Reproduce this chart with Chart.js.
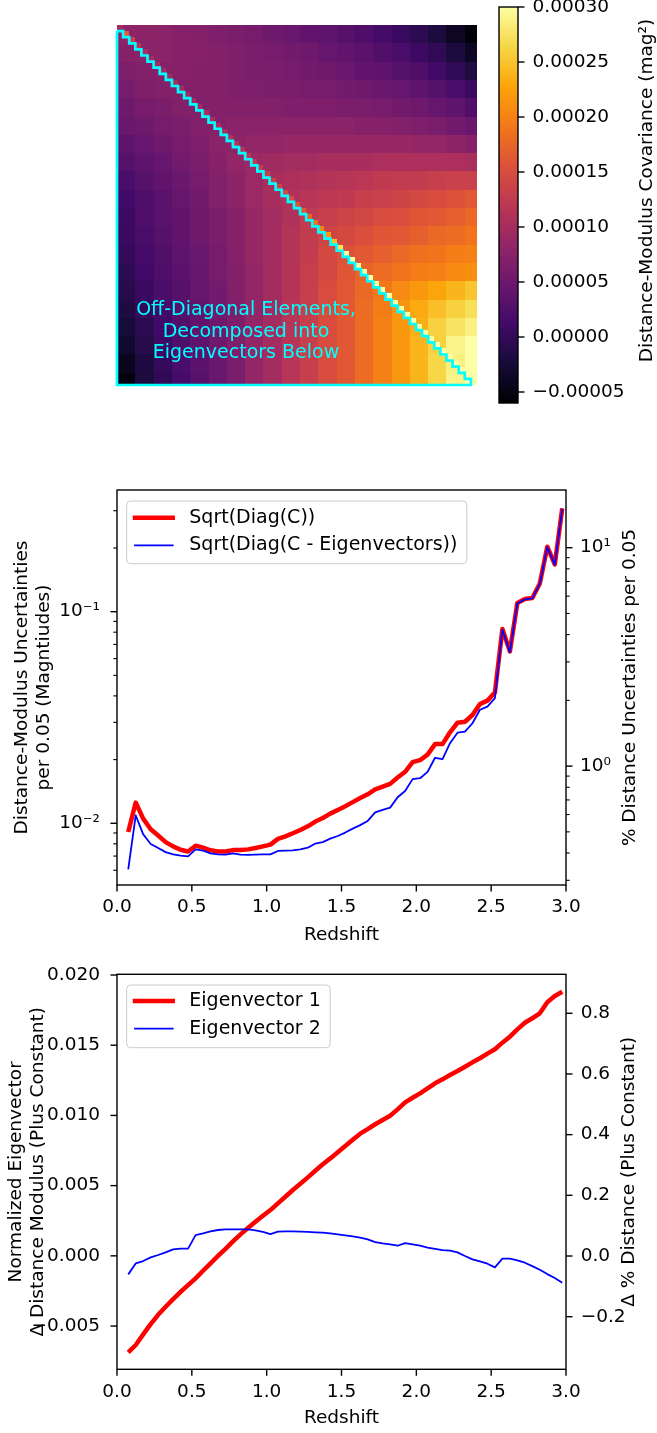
<!DOCTYPE html>
<html><head><meta charset="utf-8">
<script src="https://cdn.jsdelivr.net/npm/chart.js@4.4.1/dist/chart.umd.min.js"></script>
<style>
html,body{margin:0;padding:0;background:#fff;}
#wrap{position:relative;width:657px;height:1433px;overflow:hidden;background:#fff;}
canvas{position:absolute;}
</style></head><body>
<div id="wrap">
<canvas id="heat" width="368" height="368" style="left:113px;top:21px;width:368px;height:368px"></canvas>
<canvas id="cbar" width="177" height="420" style="left:480px;top:0px;width:177px;height:420px"></canvas>
<canvas id="unc" width="657" height="480" style="left:0px;top:470px;width:657px;height:480px"></canvas>
<canvas id="eig" width="657" height="478" style="left:0px;top:955px;width:657px;height:478px"></canvas>
</div>
<script>
// ---------------- DATA ----------------
const redshift = [0.075,0.125,0.175,0.225,0.275,0.325,0.375,0.425,0.475,0.525,0.575,0.625,0.675,0.725,0.775,0.825,0.875,0.925,0.975,1.025,1.075,1.125,1.175,1.225,1.275,1.325,1.375,1.425,1.475,1.525,1.575,1.625,1.675,1.725,1.775,1.825,1.875,1.925,1.975,2.025,2.075,2.125,2.175,2.225,2.275,2.325,2.375,2.425,2.475,2.525,2.575,2.625,2.675,2.725,2.775,2.825,2.875,2.925,2.975];

// Sqrt(Diag(C)) (mag)
const sigmaFull = [0.0091,0.01253,0.01052,0.00937,0.00875,0.00815,0.00778,0.0075,0.00736,0.00784,0.00767,0.00745,0.00736,0.00736,0.00747,0.00747,0.00753,0.00764,0.00778,0.00793,0.00844,0.00867,0.00897,0.0093,0.00968,0.01019,0.01059,0.01111,0.01156,0.01205,0.01259,0.01318,0.01371,0.01448,0.01492,0.01536,0.01647,0.01751,0.01946,0.0199,0.0211,0.02367,0.02367,0.02692,0.02986,0.0302,0.0325,0.0366,0.038,0.0415,0.0828,0.0649,0.110,0.1148,0.1161,0.1358,0.2027,0.1671,0.3077];

// Sqrt(Diag(C - Eigenvectors)) (mag)
const sigmaResid = [0.00605,0.01091,0.00887,0.00798,0.00764,0.00731,0.00713,0.00703,0.00698,0.00753,0.00743,0.00721,0.00713,0.00711,0.00721,0.00711,0.00709,0.00711,0.00713,0.00713,0.0074,0.00743,0.00745,0.00753,0.00767,0.00802,0.00815,0.00846,0.00871,0.00904,0.00944,0.0098,0.01026,0.01125,0.01156,0.01186,0.01328,0.01422,0.01617,0.01633,0.0175,0.0204,0.0201,0.0239,0.0268,0.0271,0.0297,0.0344,0.0356,0.039,0.0822,0.0644,0.1093,0.1143,0.1156,0.1352,0.202,0.1665,0.307];

// Eigenvectors (normalized, mag, plus constant)
const eigvec1 = [-0.00687,-0.00635,-0.00559,-0.00486,-0.0042,-0.00363,-0.00308,-0.00256,-0.00208,-0.0016,-0.00106,-0.00053,-0.00001,0.0005,0.00103,0.00153,0.00198,0.00243,0.00286,0.00326,0.00374,0.00421,0.00469,0.00514,0.00559,0.00606,0.00652,0.00694,0.00738,0.00782,0.00827,0.0087,0.00903,0.00937,0.00967,0.00998,0.01043,0.01093,0.01126,0.01157,0.01193,0.01229,0.01257,0.01288,0.01316,0.01347,0.01378,0.01407,0.0144,0.01471,0.01518,0.01561,0.01613,0.0166,0.01692,0.01727,0.01806,0.0185,0.01881];
const eigvec2 = [-0.00132,-0.00054,-0.00037,-0.00011,0.00006,0.00025,0.00046,0.00051,0.00051,0.00148,0.0016,0.00174,0.00184,0.00189,0.00189,0.00189,0.00189,0.00181,0.0017,0.00155,0.00172,0.00174,0.00174,0.00172,0.0017,0.00167,0.00165,0.0016,0.00153,0.00146,0.00139,0.00129,0.00117,0.00098,0.00089,0.00082,0.00072,0.00091,0.00082,0.00072,0.00058,0.00049,0.00041,0.00037,0.00025,-0.00001,-0.00025,-0.00039,-0.00056,-0.00082,-0.0002,-0.0002,-0.00032,-0.00049,-0.00073,-0.00099,-0.0013,-0.00158,-0.00191];

// Covariance image, in units of 1e-5 mag^2: 20x20 blocks (3 redshift bins each), row = first index
const covBlocks = [
 [8.0,8.0,7.7,7.3,7.0,6.6,6.2,5.9,5.2,4.8,4.1,3.7,3.0,2.3,1.6,0.5,-0.6,-2.0,-3.8,-5.6],
 [7.3,7.7,7.7,7.3,7.3,7.0,6.6,6.2,5.9,5.5,5.2,4.4,4.1,3.4,2.6,1.9,0.8,-0.2,-2.0,-3.8],
 [6.6,7.0,7.3,7.3,7.0,7.0,6.6,6.2,6.2,5.9,5.5,5.2,4.8,4.1,3.7,3.0,2.3,1.2,-0.2,-1.7],
 [5.9,6.6,7.0,7.0,7.0,7.0,6.6,6.6,6.2,6.2,5.9,5.9,5.5,5.2,4.8,4.4,3.7,3.0,1.9,0.5],
 [5.2,5.9,6.2,7.0,7.0,7.0,7.0,7.0,7.0,6.6,6.6,6.6,6.2,6.2,5.9,5.5,5.2,4.4,3.7,2.6],
 [4.8,5.2,5.9,6.2,7.0,7.3,7.7,7.7,7.7,7.7,7.7,7.7,7.7,7.3,7.3,7.0,6.6,6.2,5.5,4.8],
 [3.7,4.4,5.2,5.9,6.6,7.7,8.0,8.4,8.4,8.8,8.8,8.8,8.8,8.8,8.8,8.8,8.4,8.4,8.0,7.3],
 [3.0,3.7,4.4,5.5,6.2,7.3,8.4,9.1,9.5,9.8,9.8,10.2,10.2,10.2,10.6,10.6,10.6,10.6,10.6,10.2],
 [1.9,3.0,4.1,4.8,5.9,7.0,8.0,9.1,10.2,10.6,10.9,11.3,11.6,12.0,12.4,12.7,12.7,13.1,13.4,13.4],
 [1.2,2.3,3.4,4.4,5.5,7.0,8.0,9.1,10.2,10.9,11.6,12.0,12.4,13.1,13.4,13.8,14.5,14.9,15.6,16.3],
 [0.8,2.3,3.4,4.1,5.2,6.2,7.3,8.8,9.8,10.9,12.4,13.1,13.8,14.2,14.9,15.2,16.0,16.3,17.0,17.8],
 [0.5,1.9,3.0,4.1,5.2,6.2,7.3,8.8,9.8,11.3,12.7,13.8,14.5,15.2,16.0,16.3,17.0,17.8,18.1,18.8],
 [0.1,1.6,2.6,3.7,4.8,5.9,7.3,8.8,9.8,11.3,12.7,14.5,15.6,16.3,17.0,17.8,18.5,18.8,19.6,19.9],
 [-0.6,1.2,2.3,3.4,4.4,5.9,7.0,8.4,9.8,11.3,13.1,14.5,16.0,17.4,18.1,18.8,19.6,19.9,20.6,21.0],
 [-1.0,0.5,1.9,3.0,4.4,5.5,7.0,8.4,9.8,11.3,13.1,14.9,16.3,17.8,19.2,20.6,21.7,22.8,23.9,25.0],
 [-1.7,0.1,1.6,3.0,4.1,5.5,6.6,8.4,9.8,11.6,13.1,14.9,16.3,18.1,19.6,21.4,23.2,24.6,26.0,27.1],
 [-2.4,-0.6,1.2,2.6,4.1,5.2,6.6,8.4,9.8,11.6,13.1,14.9,16.3,18.1,19.9,21.7,23.5,26.0,27.5,28.6],
 [-3.1,-1.0,0.8,2.3,3.7,5.2,6.6,8.4,9.8,11.6,13.1,14.9,16.3,18.1,19.9,21.7,23.9,26.0,28.9,30.0],
 [-4.2,-1.7,0.1,1.9,3.4,4.8,6.2,8.4,9.8,11.6,13.1,14.9,16.3,18.1,19.9,21.7,23.9,26.4,28.6,31.1],
 [-5.3,-2.0,-0.2,1.6,3.0,4.8,6.2,8.4,9.8,11.6,13.1,14.9,16.3,18.1,19.9,21.7,23.9,26.4,28.9,31.8]
];
// Diagonal elements of the image, 1e-5 mag^2, one per redshift bin
const covDiag = [9.8,16.7,13.1,11.3,10.2,9.8,9.5,9.5,9.5,10.2,9.8,9.8,9.8,9.8,10.2,10.2,10.6,10.6,10.9,11.3,11.6,12.0,12.4,12.7,13.1,13.4,13.8,14.5,14.9,15.6,16.3,17.4,18.5,20.3,22.1,24.6,27.5,30.7,37.9,39.6,44.5,56.0,56.0,72.5,89.2,91.2,105.6,134,144,172,686,421,1210,1318,1348,1844,4109,2792,9468];

// tick values & labels
const xTickValues = [0,0.5,1,1.5,2,2.5,3];
const xTickLabels = ['0.0','0.5','1.0','1.5','2.0','2.5','3.0'];
const uncLeftTickValues = [0.006,0.007,0.008,0.009,0.01,0.02,0.03,0.04,0.05,0.06,0.07,0.08,0.09,0.1,0.2,0.3];
const uncLeftTickLabels = ['','','','','10⁻²','','','','','','','','','10⁻¹','',''];
const uncRightTickValues = [0.3,0.4,0.5,0.6,0.7,0.8,0.9,1,2,3,4,5,6,7,8,9,10];
const uncRightTickLabels = ['','','','','','','','10⁰','','','','','','','','','10¹'];
const evLeftTickValues = [-0.005,0,0.005,0.01,0.015,0.02];
const evLeftTickLabels = ['−0.005','0.000','0.005','0.010','0.015','0.020'];
const evRightTickValues = [-0.2,0,0.2,0.4,0.6,0.8];
const evRightTickLabels = ['−0.2','0.0','0.2','0.4','0.6','0.8'];
const cbTickValues = [-0.00005,0,0.00005,0.0001,0.00015,0.0002,0.00025,0.0003];
const cbTickLabels = ['−0.00005','0.00000','0.00005','0.00010','0.00015','0.00020','0.00025','0.00030'];

const CB_MIN = -0.00006, CB_MAX = 0.0003, COV_UNIT = 1e-5, CELLS_PER_BLOCK = 3;

// ---------------- helpers ----------------
Chart.defaults.font.family = "'DejaVu Sans', sans-serif";
Chart.defaults.font.size = 18.5;
Chart.defaults.color = '#000';
Chart.defaults.animation = false;

const INFERNO = ['#000004','#160b39','#420a68','#6a176e','#932667','#bc3754','#dd513a','#f37819','#fca50a','#f6d746','#fcffa4'];
function hexRgb(h){return [parseInt(h.slice(1,3),16),parseInt(h.slice(3,5),16),parseInt(h.slice(5,7),16)];}
const INF_RGB = INFERNO.map(hexRgb);
function inferno(t){
  t = Math.max(0, Math.min(1, t));
  const n = INF_RGB.length - 1, f = t*n, i = Math.min(n-1, Math.floor(f)), u = f - i;
  const a = INF_RGB[i], b = INF_RGB[i+1];
  return 'rgb(' + [0,1,2].map(k => Math.round(a[k] + (b[k]-a[k])*u)).join(',') + ')';
}
function covColor(v){ return inferno((v - CB_MIN)/(CB_MAX - CB_MIN)); }

function setTicks(vals, labels){ return function(scale){ scale.ticks = vals.map((v,i)=>({value:v, mj: labels[i] !== ''})); }; }
function lbl(labels){ return function(v,i){ return labels[i]; }; }
function fixW(w){ return function(s){ s.width = w; s.paddingTop = 0; s.paddingBottom = 0; s.paddingLeft = 0; s.paddingRight = 0; }; }
function fixH(h){ return function(s){ s.height = h; s.paddingTop = 0; s.paddingBottom = 0; s.paddingLeft = 0; s.paddingRight = 0; }; }

const tickMarks = {
  id:'tickMarks',
  afterDraw(chart){
    const ctx = chart.ctx;
    ctx.save(); ctx.strokeStyle = '#000'; ctx.lineCap = 'butt';
    Object.values(chart.scales).forEach(s => {
      if (s.options.display === false) return;
      const pos = s.options.position;
      s.ticks.forEach(t => {
        const len = t.mj ? 6.5 : 3.7;
        ctx.lineWidth = t.mj ? 1.4 : 1.1;
        const p = s.getPixelForValue(t.value);
        ctx.beginPath();
        if (pos === 'left'){ ctx.moveTo(s.right, p); ctx.lineTo(s.right - len, p); }
        else if (pos === 'right'){ ctx.moveTo(s.left, p); ctx.lineTo(s.left + len, p); }
        else { ctx.moveTo(p, s.top); ctx.lineTo(p, s.top + len); }
        ctx.stroke();
      });
    });
    ctx.restore();
  }
};
const frame = {
  id:'frame',
  afterDraw(chart){
    const {ctx, chartArea:a} = chart;
    ctx.save(); ctx.strokeStyle = '#000'; ctx.lineWidth = 1.4;
    ctx.strokeRect(a.left, a.top, a.right - a.left, a.bottom - a.top);
    ctx.restore();
  }
};
const rotTitle = {
  id:'rotTitle',
  afterDraw(chart, args, o){
    if (!o || !o.text) return;
    const {ctx, chartArea:a} = chart;
    ctx.save();
    ctx.translate(a.right + o.dx, (o.cy !== undefined ? o.cy : (a.top + a.bottom)/2));
    ctx.rotate(-Math.PI/2);
    ctx.font = o.size + "px 'DejaVu Sans'";
    ctx.fillStyle = '#000'; ctx.textAlign = 'center'; ctx.textBaseline = 'middle';
    ctx.fillText(o.text, 0, 0);
    ctx.restore();
  }
};
const mplLegend = {
  id:'mplLegend',
  afterDraw(chart, args, o){
    const {ctx, chartArea:a} = chart;
    const ds = chart.data.datasets;
    ctx.save();
    ctx.font = o.fontSize + "px 'DejaVu Sans'";
    let maxW = 0; ds.forEach(d => { maxW = Math.max(maxW, ctx.measureText(d.label).width); });
    const x0 = a.left + o.dx, y0 = a.top + o.dy, w = o.textX + maxW + o.padRight, h = o.height;
    ctx.beginPath();
    if (ctx.roundRect) ctx.roundRect(x0, y0, w, h, 4); else ctx.rect(x0, y0, w, h);
    ctx.fillStyle = 'rgba(255,255,255,0.8)'; ctx.fill();
    ctx.strokeStyle = '#cccccc'; ctx.lineWidth = 1; ctx.stroke();
    ds.forEach((d,i) => {
      const yy = y0 + o.firstRow + i*o.rowGap;
      ctx.beginPath(); ctx.moveTo(x0 + o.lineX0, yy); ctx.lineTo(x0 + o.lineX1, yy);
      ctx.strokeStyle = d.borderColor; ctx.lineWidth = d.borderWidth; ctx.lineCap = 'square'; ctx.stroke();
      ctx.fillStyle = '#000'; ctx.textAlign = 'left'; ctx.textBaseline = 'middle';
      ctx.fillText(d.label, x0 + o.textX, yy);
    });
    ctx.restore();
  }
};
const legendOpts = {dx:9.7, dy:11, firstRow:16.8, rowGap:27.6, height:62.7, textX:62.6, lineX0:8.3, lineX1:46, padRight:9.4, fontSize:19};

// ---------------- heatmap ----------------
const N = redshift.length;
const outline = [{x:0,y:1},{x:0,y:N}];
for (let r = N-1; r >= 1; r--){ outline.push({x:r,y:r+1}); outline.push({x:r,y:r}); }
outline.push({x:0,y:1});

const heatPlugin = {
  id:'heatCells',
  beforeDatasetsDraw(chart){
    const {ctx, scales:{x, y}} = chart;
    ctx.save();
    for (let bi = 0; bi < covBlocks.length; bi++){
      for (let bj = 0; bj < covBlocks[bi].length; bj++){
        const r0 = bi*CELLS_PER_BLOCK, r1 = Math.min(r0 + CELLS_PER_BLOCK, N);
        const c0 = bj*CELLS_PER_BLOCK, c1 = Math.min(c0 + CELLS_PER_BLOCK, N);
        const px0 = Math.round(x.getPixelForValue(c0)), px1 = Math.round(x.getPixelForValue(c1));
        const py0 = Math.round(y.getPixelForValue(r0)), py1 = Math.round(y.getPixelForValue(r1));
        ctx.fillStyle = covColor(covBlocks[bi][bj]*COV_UNIT);
        ctx.fillRect(px0, py0, px1 - px0, py1 - py0);
      }
    }
    for (let i = 0; i < N; i++){
      const px0 = Math.round(x.getPixelForValue(i)), px1 = Math.round(x.getPixelForValue(i+1));
      const py0 = Math.round(y.getPixelForValue(i)), py1 = Math.round(y.getPixelForValue(i+1));
      ctx.fillStyle = covColor(covDiag[i]*COV_UNIT);
      ctx.fillRect(px0, py0, px1 - px0, py1 - py0);
    }
    ctx.restore();
  },
  afterDraw(chart){
    const {ctx, chartArea:a} = chart;
    const lines = ['Off-Diagonal Elements,','Decomposed into','Eigenvectors Below'];
    ctx.save();
    ctx.font = "19px 'DejaVu Sans'"; ctx.fillStyle = '#00ffff';
    ctx.textAlign = 'center'; ctx.textBaseline = 'middle';
    lines.forEach((t,i) => ctx.fillText(t, a.left + 129, a.top + 285 + i*21.7));
    ctx.restore();
  }
};

new Chart(document.getElementById('heat'), {
  type:'scatter',
  data:{datasets:[{label:'outline', data:outline, showLine:true, borderColor:'#00ffff', borderWidth:2.7, pointRadius:0, clip:false, borderJoinStyle:'miter'}]},
  options:{
    responsive:false, animation:false,
    layout:{padding:4},
    plugins:{legend:{display:false}, tooltip:{enabled:false}},
    scales:{
      x:{type:'linear', min:0, max:N, display:false},
      y:{type:'linear', min:0, max:N, reverse:true, display:false}
    }
  },
  plugins:[heatPlugin]
});

// ---------------- colorbar ----------------
const cbGrad = {
  id:'cbGrad',
  beforeDatasetsDraw(chart){
    const {ctx, chartArea:a, scales:{y}} = chart;
    ctx.save();
    for (let py = Math.floor(a.top); py < Math.ceil(a.bottom); py++){
      ctx.fillStyle = covColor(y.getValueForPixel(py + 0.5));
      ctx.fillRect(a.left, py, a.right - a.left, 1);
    }
    ctx.restore();
  }
};
new Chart(document.getElementById('cbar'), {
  type:'scatter',
  data:{datasets:[]},
  options:{
    responsive:false, animation:false,
    layout:{padding:{left:19, top:7, bottom:17, right:0}},
    plugins:{legend:{display:false}, tooltip:{enabled:false},
      rotTitle:{text:'Distance-Modulus Covariance (mag²)', dx:129, cy:190.5, size:18.5}},
    scales:{
      x:{type:'linear', display:false, min:0, max:1},
      y:{type:'linear', position:'right', min:CB_MIN, max:CB_MAX,
         afterBuildTicks:setTicks(cbTickValues, cbTickLabels),
         ticks:{callback:lbl(cbTickLabels), padding:14.5, autoSkip:false, maxRotation:0},
         grid:{display:false, drawTicks:false}, border:{display:false},
         afterFit:fixW(139)}
    }
  },
  plugins:[cbGrad, tickMarks, frame, rotTitle]
});

// ---------------- uncertainties ----------------
new Chart(document.getElementById('unc'), {
  type:'line',
  data:{datasets:[
    {label:'Sqrt(Diag(C))', data:redshift.map((z,i)=>({x:z, y:sigmaFull[i]})), borderColor:'#ff0000', borderWidth:4.5, order:1, yAxisID:'y'},
    {label:'Sqrt(Diag(C - Eigenvectors))', data:redshift.map((z,i)=>({x:z, y:sigmaResid[i]})), borderColor:'#0000ff', borderWidth:1.8, order:0, yAxisID:'y'}
  ]},
  options:{
    responsive:false, animation:false,
    layout:{padding:{top:20, left:0, right:0, bottom:0}},
    elements:{point:{radius:0}, line:{tension:0, borderJoinStyle:'round', borderCapStyle:'butt', fill:false}},
    plugins:{legend:{display:false}, tooltip:{enabled:false},
      mplLegend:legendOpts,
      rotTitle:{text:'% Distance Uncertainties per 0.05', dx:64, size:18.5}},
    scales:{
      x:{type:'linear', position:'bottom', min:0, max:3,
         afterBuildTicks:setTicks(xTickValues, xTickLabels),
         ticks:{callback:lbl(xTickLabels), padding:11.5, autoSkip:false, maxRotation:0},
         grid:{display:false, drawTicks:false}, border:{display:false},
         title:{display:true, text:'Redshift', padding:{top:0, bottom:4}},
         afterFit:fixH(65)},
      y:{type:'logarithmic', position:'left', min:0.00511, max:0.3758,
         afterBuildTicks:setTicks(uncLeftTickValues, uncLeftTickLabels),
         ticks:{callback:lbl(uncLeftTickLabels), padding:17, autoSkip:false},
         grid:{display:false, drawTicks:false}, border:{display:false},
         title:{display:true, text:['Distance-Modulus Uncertainties','per 0.05 (Magntiudes)'], font:{size:18.5, lineHeight:1.2}, padding:{top:10.9, bottom:0}},
         afterFit:fixW(117)},
      y2:{type:'logarithmic', position:'right', min:0.2855, max:18.37,
         afterBuildTicks:setTicks(uncRightTickValues, uncRightTickLabels),
         ticks:{callback:lbl(uncRightTickLabels), padding:14, autoSkip:false},
         grid:{display:false, drawTicks:false}, border:{display:false},
         afterFit:fixW(91)}
    }
  },
  plugins:[tickMarks, frame, mplLegend, rotTitle]
});

// ---------------- eigenvectors ----------------
new Chart(document.getElementById('eig'), {
  type:'line',
  data:{datasets:[
    {label:'Eigenvector 1', data:redshift.map((z,i)=>({x:z, y:eigvec1[i]})), borderColor:'#ff0000', borderWidth:4.5, order:1, yAxisID:'y'},
    {label:'Eigenvector 2', data:redshift.map((z,i)=>({x:z, y:eigvec2[i]})), borderColor:'#0000ff', borderWidth:1.8, order:0, yAxisID:'y'}
  ]},
  options:{
    responsive:false, animation:false,
    layout:{padding:{top:19.3, left:0, right:0, bottom:0}},
    elements:{point:{radius:0}, line:{tension:0, borderJoinStyle:'round', borderCapStyle:'butt', fill:false}},
    plugins:{legend:{display:false}, tooltip:{enabled:false},
      mplLegend:Object.assign({}, legendOpts, {dy:10.7, firstRow:16}),
      rotTitle:{text:'Δ % Distance (Plus Constant)', dx:63.5, size:18.5}},
    scales:{
      x:{type:'linear', position:'bottom', min:0, max:3,
         afterBuildTicks:setTicks(xTickValues, xTickLabels),
         ticks:{callback:lbl(xTickLabels), padding:11.5, autoSkip:false, maxRotation:0},
         grid:{display:false, drawTicks:false}, border:{display:false},
         title:{display:true, text:'Redshift', padding:{top:0, bottom:4}},
         afterFit:fixH(63.7)},
      y:{type:'linear', position:'left', min:-0.00808, max:0.02005,
         afterBuildTicks:setTicks(evLeftTickValues, evLeftTickLabels),
         ticks:{callback:lbl(evLeftTickLabels), padding:17, autoSkip:false},
         grid:{display:false, drawTicks:false}, border:{display:false},
         title:{display:true, text:['Normalized Eigenvector','Δ Distance Modulus (Plus Constant)'], font:{size:18.5, lineHeight:1.2}, padding:{top:5.2, bottom:0}},
         afterFit:fixW(117)},
      y2:{type:'linear', position:'right', min:-0.3734, max:0.9285,
         afterBuildTicks:setTicks(evRightTickValues, evRightTickLabels),
         ticks:{callback:lbl(evRightTickLabels), padding:14.7, autoSkip:false},
         grid:{display:false, drawTicks:false}, border:{display:false},
         afterFit:fixW(91)}
    }
  },
  plugins:[tickMarks, frame, mplLegend, rotTitle]
});
</script>
</body></html>
